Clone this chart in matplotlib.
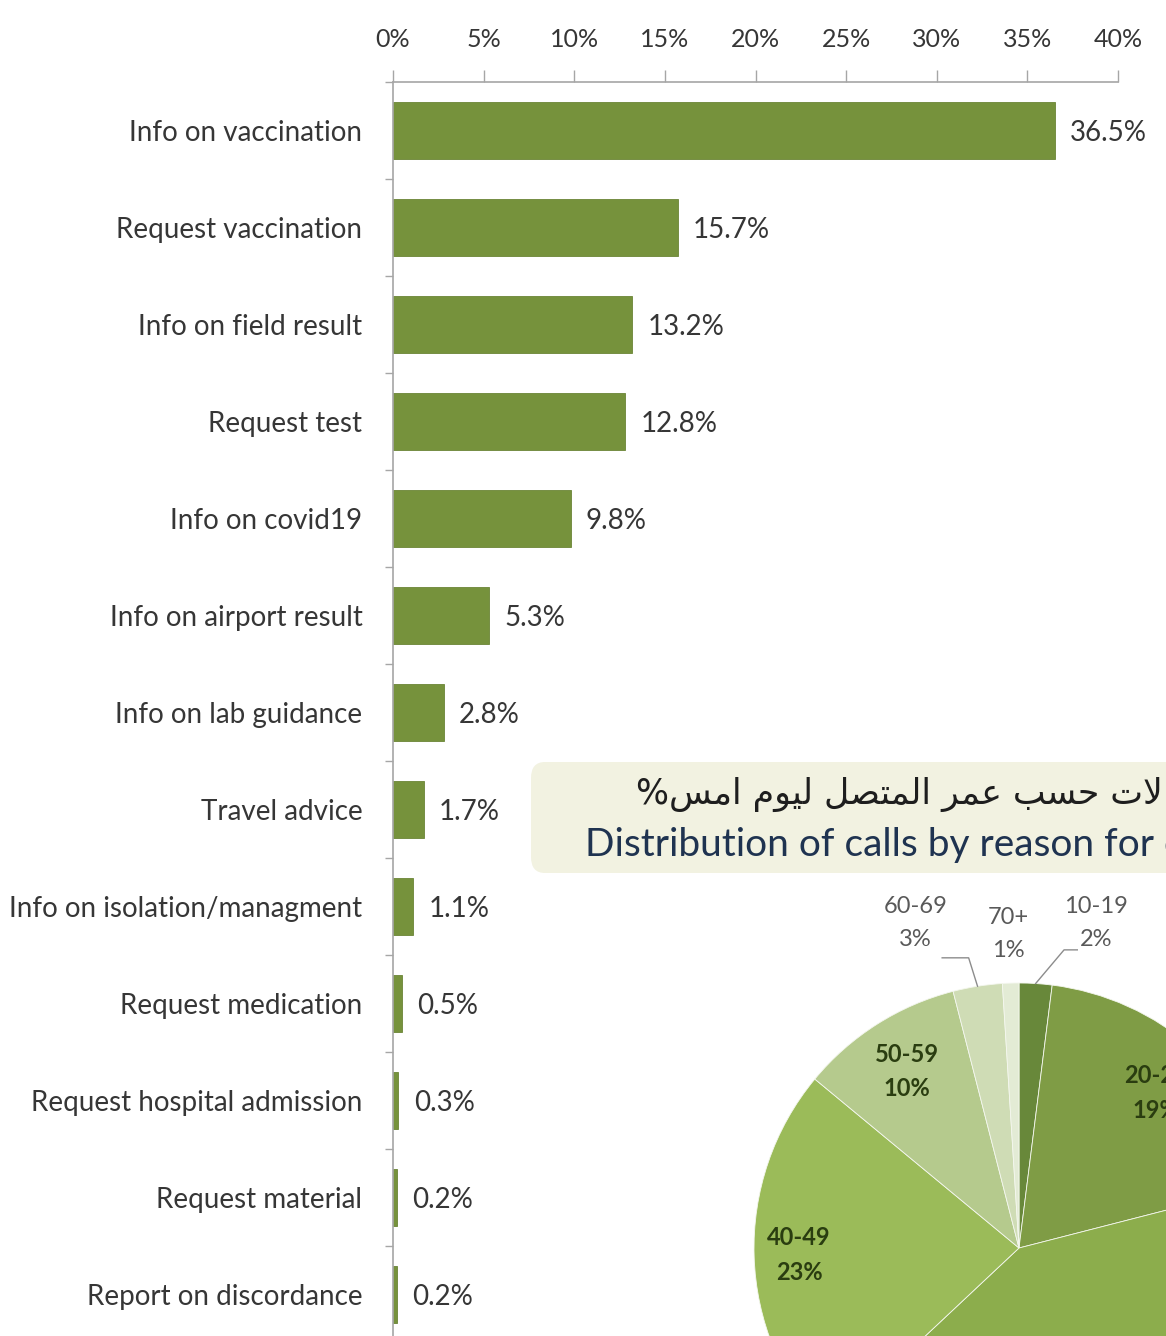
import numpy as np
import matplotlib
matplotlib.use("Agg")
import matplotlib.pyplot as plt
from matplotlib.patches import FancyBboxPatch
from matplotlib.ticker import FixedLocator, PercentFormatter

# bar chart data (percent of calls by reason)
reasons = ["Info on vaccination", "Request vaccination", "Info on field result",
           "Request test", "Info on covid19", "Info on airport result",
           "Info on lab guidance", "Travel advice", "Info on isolation/managment",
           "Request medication", "Request hospital admission", "Request material",
           "Report on discordance"]
shares = [36.5, 15.7, 13.2, 12.8, 9.8, 5.3, 2.8, 1.7, 1.1, 0.5, 0.3, 0.2, 0.2]
xticks = [0, 5, 10, 15, 20, 25, 30, 35, 40]

# pie data (calls by caller age)
age_groups = ["10-19", "20-29", "30-39", "40-49", "50-59", "60-69", "70+"]
age_shares = [2, 19, 42, 23, 10, 3, 1]
age_colors = ["#68883a", "#7f9c45", "#8cad4c", "#9bbb59", "#b5ca8d", "#cfdcb5", "#e3ebd5"]

title_ar = "توزيع الاتصالات حسب عمر المتصل ليوم امس%"
title_en = "Distribution of calls by reason for calling"

LABEL_FONT = ["Lato", "DejaVu Sans"]
GREY = "#363636"
BAR = "#76923c"


# tiny arabic shaper: contextual forms + visual order (matplotlib has no bidi)
FORMS = {
    "ا": ("\ufe8d", "\ufe8e", None, None), "ب": ("\ufe8f", "\ufe90", "\ufe91", "\ufe92"),
    "ت": ("\ufe95", "\ufe96", "\ufe97", "\ufe98"), "ح": ("\ufea1", "\ufea2", "\ufea3", "\ufea4"),
    "ر": ("\ufead", "\ufeae", None, None), "ز": ("\ufeaf", "\ufeb0", None, None),
    "س": ("\ufeb1", "\ufeb2", "\ufeb3", "\ufeb4"), "ص": ("\ufeb9", "\ufeba", "\ufebb", "\ufebc"),
    "ع": ("\ufec9", "\ufeca", "\ufecb", "\ufecc"), "ل": ("\ufedd", "\ufede", "\ufedf", "\ufee0"),
    "م": ("\ufee1", "\ufee2", "\ufee3", "\ufee4"), "و": ("\ufeed", "\ufeee", None, None),
    "ي": ("\ufef1", "\ufef2", "\ufef3", "\ufef4"),
}


def shape_arabic(s):
    out = []
    i = 0
    while i < len(s):
        c = s[i]
        if c not in FORMS:
            out.append(c)
            i += 1
            continue
        prev = s[i - 1] if i > 0 else ""
        join_prev = prev in FORMS and FORMS[prev][2] is not None
        if c == "ل" and i + 1 < len(s) and s[i + 1] == "ا":
            out.append("\ufefc" if join_prev else "\ufefb")
            i += 2
            continue
        nxt = s[i + 1] if i + 1 < len(s) else ""
        join_next = FORMS[c][2] is not None and nxt in FORMS
        iso, fin, ini, med = FORMS[c]
        if join_prev and join_next:
            out.append(med)
        elif join_prev:
            out.append(fin)
        elif join_next:
            out.append(ini)
        else:
            out.append(iso)
        i += 1
    return "".join(reversed(out))


W, H = 1166, 1336
fig = plt.figure(figsize=(W / 100, H / 100), dpi=100)
fig.patch.set_facecolor("white")

# ---- bar chart ----
top, row = 82, 97.0
bottom = top + row * len(reasons)
ax = fig.add_axes([393 / W, 1 - bottom / H, (1118 - 393) / W, (bottom - top) / H])
y = np.arange(len(reasons))
bars = ax.barh(y, shares, height=0.58, color=BAR, edgecolor="#6a8535", linewidth=0.6)
ax.set_xlim(0, 40)
ax.set_ylim(len(reasons) - 0.5, -0.5)
ax.xaxis.tick_top()
ax.set_xticks(xticks)
ax.xaxis.set_major_formatter(PercentFormatter(decimals=0))
ax.tick_params(axis="x", direction="out", length=9, width=1, color="#a6a6a6",
               pad=13, labelsize=18, labelcolor=GREY)
ax.set_yticks(y)
ax.set_yticklabels(reasons)
ax.tick_params(axis="y", which="major", length=0, pad=22, labelsize=20, labelcolor=GREY)
ax.yaxis.set_minor_locator(FixedLocator(np.arange(len(reasons) + 1) - 0.5))
ax.tick_params(axis="y", which="minor", direction="out", length=6, width=1, color="#a6a6a6")
for lab in ax.get_yticklabels() + ax.get_xticklabels():
    lab.set_family(LABEL_FONT)
for side in ["right", "bottom"]:
    ax.spines[side].set_visible(False)
ax.spines["top"].set_color("#a6a6a6")
ax.spines["left"].set_color("#a6a6a6")
ax.spines["top"].set_linewidth(1.2)
ax.spines["left"].set_linewidth(1.2)
vlabels = ax.bar_label(bars, labels=[f"{v}%" for v in shares], padding=11, fontsize=20,
                       color=GREY, family=LABEL_FONT)
for t in vlabels:
    t.set_va("center_baseline")
ax.set_facecolor("none")

# ---- title box of the pie panel ----
fig.patches.append(FancyBboxPatch((531 / W, 1 - 873 / H), 700 / W, 111 / H,
                                  boxstyle="round,pad=0,rounding_size=0.012",
                                  transform=fig.transFigure, facecolor="#f2f2e1",
                                  edgecolor="none", zorder=0))
fig.text(636 / W, 1 - 795 / H, shape_arabic(title_ar), fontsize=25, color="#1e1e1e",
         family="DejaVu Sans", ha="left", va="center")
fig.text(585 / W, 1 - 845 / H, title_en, fontsize=28, color="#1f3350",
         family="Lato", ha="left", va="center")

# ---- pie ----
cx, cy, r = 1019, 1248, 265
pax = fig.add_axes([(cx - r) / W, 1 - (cy + r) / H, 2 * r / W, 2 * r / H])
wedges, _ = pax.pie(age_shares, colors=age_colors, startangle=90, counterclock=False,
                    wedgeprops=dict(edgecolor="#f4f7ee", linewidth=0.6))
pax.set_xlim(-1, 1)
pax.set_ylim(-1, 1)
pax.set_aspect("equal")
pax.axis("off")

inside = {"20-29": 0.78, "40-49": 0.83, "50-59": 0.79, "30-39": 0.7}
outside = {"10-19": (0.29, 1.225), "70+": (-0.04, 1.185), "60-69": (-0.39, 1.225)}
for w, g, v in zip(wedges, age_groups, age_shares):
    ang = np.deg2rad((w.theta1 + w.theta2) / 2)
    ex, ey = np.cos(ang), np.sin(ang)
    txt = f"{g}\n{v}%"
    if g in inside:
        d = inside[g]
        pax.text(d * ex, d * ey, txt, ha="center", va="center", fontsize=17,
                 color="#2a3d10", family=LABEL_FONT, fontweight="bold", linespacing=1.6,
                 clip_on=False)
    else:
        tx, ty = outside[g]
        pax.text(tx, ty, txt, ha="center", va="center", fontsize=17, color="#595959",
                 family=LABEL_FONT, linespacing=1.7, clip_on=False)
        if g == "60-69":
            pax.plot([tx + 0.1, tx + 0.2, ex], [ty - 0.13, ty - 0.13, ey], color="#8c8c8c",
                     lw=1, clip_on=False)
        if g == "10-19":
            pax.plot([tx - 0.07, tx - 0.12, ex], [ty - 0.1, ty - 0.1, ey], color="#8c8c8c",
                     lw=1, clip_on=False)

fig.savefig("out.png", dpi=100)
